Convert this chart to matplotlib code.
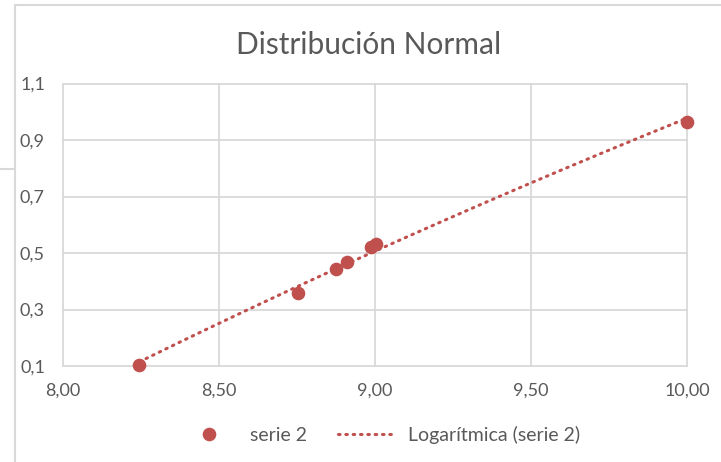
import numpy as np
import matplotlib
matplotlib.use("Agg")
import matplotlib.pyplot as plt
from matplotlib.lines import Line2D
from matplotlib.ticker import FuncFormatter

plt.rcParams['font.family'] = ['Lato', 'DejaVu Sans']

# serie 2
x_vals = [8.245, 8.754, 8.875, 8.911, 8.988, 9.004, 10.0]
y_vals = [0.103, 0.359, 0.444, 0.469, 0.522, 0.531, 0.962]

title = "Distribución Normal"
series_name = "serie 2"
trend_name = "Logarítmica (serie 2)"
x_ticks = [8.0, 8.5, 9.0, 9.5, 10.0]
y_ticks = [0.1, 0.3, 0.5, 0.7, 0.9, 1.1]

red = "#C0504D"
text_col = "#595959"
grid_col = "#D9D9D9"

W, H = 721, 462
fig = plt.figure(figsize=(W / 100, H / 100), dpi=100)
ax = fig.add_axes([63 / W, 1 - 366 / H, (687 - 63) / W, (366 - 83.5) / H])

# logarithmic trendline y = a*ln(x) + b
a, b = np.polyfit(np.log(x_vals), y_vals, 1)
xt = np.linspace(min(x_vals), max(x_vals), 200)
dotted = (0, (0.5, 1.9))
ax.plot(xt, a * np.log(xt) + b, color=red, lw=2.2,
        linestyle=dotted, dash_capstyle='round', label=trend_name, zorder=3)
ax.plot(x_vals, y_vals, 'o', color=red, ms=8.8, mec=red, label=series_name,
        zorder=4, clip_on=False)

ax.set_xlim(8.0, 10.0)
ax.set_ylim(0.1, 1.1)
ax.set_xticks(x_ticks)
ax.set_yticks(y_ticks)
ax.xaxis.set_major_formatter(FuncFormatter(lambda v, p: f"{v:.2f}".replace('.', ',')))
ax.yaxis.set_major_formatter(FuncFormatter(lambda v, p: f"{v:.1f}".replace('.', ',')))
ax.grid(True, color=grid_col, lw=1.3)
ax.set_axisbelow(True)
for s in ax.spines.values():
    s.set_visible(False)
ax.tick_params(length=0, labelsize=13, labelcolor=text_col)
ax.tick_params(axis='y', pad=13)
ax.tick_params(axis='x', pad=12)
for gl in ax.get_xgridlines() + ax.get_ygridlines():
    gl.set_clip_on(False)

fig.text(369 / W, 1 - 45 / H, title, ha='center', va='center',
         fontsize=21.5, color=text_col)

handles = [Line2D([], [], marker='o', ls='none', color=red, ms=8.8),
           Line2D([], [], color=red, lw=2.2, linestyle=dotted,
                  dash_capstyle='round')]
fig.legend(handles, [series_name, trend_name], loc='center',
           bbox_to_anchor=(380 / W, 1 - 435 / H), ncol=2, frameon=False,
           fontsize=14, labelcolor=text_col, handlelength=3.0,
           columnspacing=1.6, handletextpad=0.6)

# outer chart frame
fig.add_artist(Line2D([14.5 / W, 14.5 / W], [0, 1 - 4.5 / H], color="#D9D9D9",
                      lw=1.5, transform=fig.transFigure))
fig.add_artist(Line2D([14.5 / W, 1], [1 - 4.5 / H, 1 - 4.5 / H], color="#D9D9D9",
                      lw=1.5, transform=fig.transFigure))
fig.add_artist(Line2D([0, 13.5 / W], [1 - 169.5 / H, 1 - 169.5 / H], color="#D9D9D9",
                      lw=1.5, transform=fig.transFigure))

fig.savefig("out.png", dpi=100, facecolor="white")
